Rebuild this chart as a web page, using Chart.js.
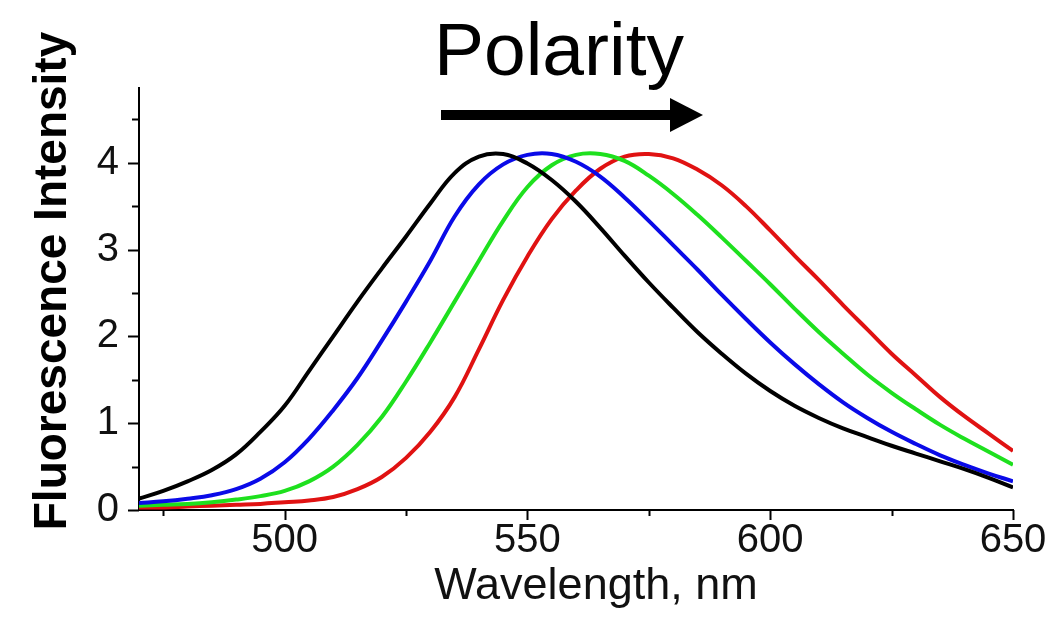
<!DOCTYPE html>
<html>
<head>
<meta charset="utf-8">
<script src="https://cdn.jsdelivr.net/npm/chart.js@4"></script>
<style>
  html, body { margin: 0; padding: 0; background: #fff; }
  #wrap { width: 1055px; height: 621px; }
</style>
</head>
<body>
<div id="wrap"><canvas id="spectra" width="1055" height="621"></canvas></div>
<script>
const wavelengths = [470, 475, 480, 485, 490, 495, 500, 505, 510, 515, 520, 525, 530, 535, 540, 545, 550, 555, 560, 565, 570, 575, 580, 585, 590, 595, 600, 605, 610, 615, 620, 625, 630, 635, 640, 645, 650];

const blackSeries = [0.13, 0.22, 0.33, 0.46, 0.64, 0.9, 1.2, 1.6, 2.0, 2.4, 2.78, 3.15, 3.53, 3.88, 4.07, 4.1, 3.99, 3.8, 3.55, 3.25, 2.93, 2.62, 2.33, 2.05, 1.8, 1.57, 1.37, 1.2, 1.06, 0.94, 0.84, 0.74, 0.65, 0.56, 0.47, 0.37, 0.26];
const blueSeries = [0.08, 0.1, 0.13, 0.17, 0.24, 0.36, 0.55, 0.82, 1.15, 1.52, 1.95, 2.4, 2.87, 3.38, 3.75, 3.98, 4.09, 4.1, 4.01, 3.84, 3.6, 3.33, 3.05, 2.77, 2.48, 2.2, 1.93, 1.68, 1.45, 1.24, 1.06, 0.9, 0.76, 0.63, 0.52, 0.42, 0.33];
const greenSeries = [0.05, 0.06, 0.07, 0.09, 0.12, 0.16, 0.22, 0.33, 0.5, 0.75, 1.07, 1.48, 1.93, 2.4, 2.87, 3.33, 3.72, 3.97, 4.09, 4.1, 4.02, 3.85, 3.64, 3.4, 3.14, 2.87, 2.6, 2.32, 2.05, 1.8, 1.56, 1.35, 1.16, 0.98, 0.82, 0.67, 0.52];
const redSeries = [0.03, 0.03, 0.04, 0.05, 0.06, 0.07, 0.09, 0.11, 0.15, 0.24, 0.38, 0.6, 0.9, 1.3, 1.85, 2.42, 2.92, 3.35, 3.68, 3.93, 4.07, 4.1, 4.05, 3.92, 3.74, 3.5, 3.22, 2.93, 2.65, 2.36, 2.08, 1.8, 1.55, 1.3, 1.08, 0.88, 0.68];

const xMajorTicks = [500, 550, 600, 650];
const yMajorTicks = [0, 1, 2, 3, 4];

const chartTitle = 'Polarity';
const xTitle = 'Wavelength, nm';
const yTitle = 'Fluorescence Intensity';

const FONT = '"Liberation Sans", Arial, sans-serif';

function toPoints(values) {
    return wavelengths.map((w, i) => ({x: w, y: values[i]}));
}

function makeSet(values, color) {
    return {
        data: toPoints(values),
        borderColor: color,
        borderWidth: 4,
        pointRadius: 0,
        fill: false,
        tension: 0.4
    };
}

// titles, arrow and the axis tick marks (long = labelled, short = minor)
const decor = {
    id: 'decor',
    afterDraw(chart) {
        const ctx = chart.ctx;
        const xs = chart.scales.x;
        const ys = chart.scales.y;
        ctx.save();
        ctx.strokeStyle = '#000';
        ctx.lineWidth = 2;
        xs.ticks.forEach(t => {
            const px = Math.round(xs.getPixelForValue(t.value)) + 0.5;
            const len = xMajorTicks.includes(t.value) ? 10 : 6;
            ctx.beginPath();
            ctx.moveTo(px, xs.top);
            ctx.lineTo(px, xs.top + len);
            ctx.stroke();
        });
        ys.ticks.forEach(t => {
            const py = Math.round(ys.getPixelForValue(t.value)) + 0.5;
            const len = yMajorTicks.includes(t.value) ? 11 : 7;
            ctx.beginPath();
            ctx.moveTo(ys.right, py);
            ctx.lineTo(ys.right - len, py);
            ctx.stroke();
        });

        ctx.fillStyle = '#000';
        ctx.textAlign = 'center';
        ctx.textBaseline = 'alphabetic';
        ctx.font = '75px ' + FONT;
        ctx.fillText(chartTitle, 559, 75);

        ctx.textBaseline = 'middle';
        ctx.fillStyle = '#111';
        ctx.font = '45px ' + FONT;
        ctx.fillText(xTitle, 596, 587);

        ctx.save();
        ctx.fillStyle = '#000';
        ctx.translate(53, 281);
        ctx.rotate(-Math.PI / 2);
        ctx.font = 'bold 46px ' + FONT;
        ctx.fillText(yTitle, 0, 0);
        ctx.restore();

        ctx.fillStyle = '#000';
        ctx.lineWidth = 10;
        ctx.beginPath();
        ctx.moveTo(441, 115);
        ctx.lineTo(675, 115);
        ctx.stroke();
        ctx.beginPath();
        ctx.moveTo(670, 98);
        ctx.lineTo(703, 115);
        ctx.lineTo(670, 132);
        ctx.closePath();
        ctx.fill();
        ctx.restore();
    }
};

const spectraChart = new Chart(document.getElementById('spectra'), {
    type: 'line',
    data: {
        datasets: [
            makeSet(blackSeries, '#000000'),
            makeSet(blueSeries, '#0a0ae8'),
            makeSet(greenSeries, '#1ee01e'),
            makeSet(redSeries, '#e01212')
        ]
    },
    options: {
        responsive: false,
        animation: false,
        layout: {padding: {top: 88, right: 42, bottom: 0, left: 0}},
        plugins: {legend: {display: false}, tooltip: {enabled: false}},
        scales: {
            x: {
                type: 'linear',
                min: 470,
                max: 650,
                afterFit: s => { s.height = 111; },
                grid: {drawOnChartArea: false, drawTicks: false},
                border: {display: true, color: '#000', width: 2},
                ticks: {
                    stepSize: 25,
                    includeBounds: false,
                    autoSkip: false,
                    maxRotation: 0,
                    padding: 7,
                    color: '#111',
                    font: {family: FONT, size: 40},
                    callback: v => xMajorTicks.includes(v) ? String(v) : ''
                }
            },
            y: {
                min: 0,
                max: 4.86,
                afterFit: s => { s.width = 139; },
                grid: {drawOnChartArea: false, drawTicks: false},
                border: {display: true, color: '#000', width: 2},
                ticks: {
                    stepSize: 0.5,
                    includeBounds: false,
                    autoSkip: false,
                    padding: 20,
                    color: '#111',
                    font: {family: FONT, size: 40},
                    callback: v => yMajorTicks.includes(v) ? String(v) : ''
                }
            }
        }
    },
    plugins: [decor]
});
</script>
</body>
</html>
